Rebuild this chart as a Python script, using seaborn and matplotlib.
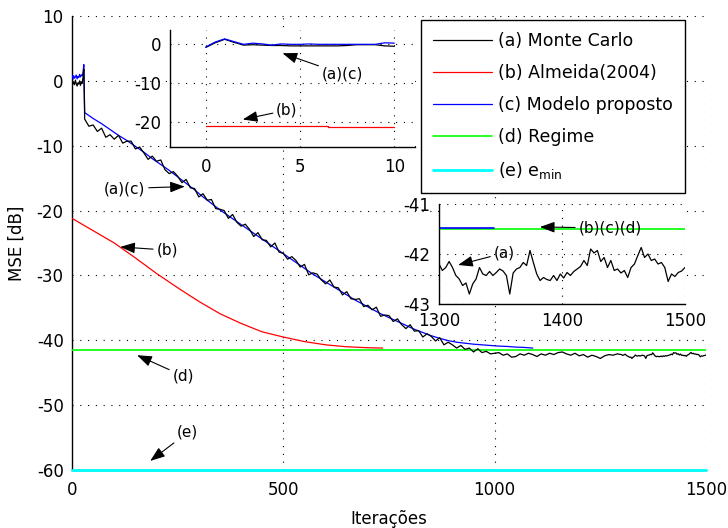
import numpy as np
import matplotlib
matplotlib.use("Agg")
import matplotlib.pyplot as plt
import seaborn as sns

# ---------------- data ----------------
# (a) Monte Carlo, main plot
mc_early = [0.3, -0.5, -0.2, -0.6, 0.1, -0.4, -0.8, -0.3, -0.5, 0.0, -0.7, -0.2, -0.4, 0.5, 1.8]   # iter 0..28 step 2
mc_mid = [-5.9, -7.0, -6.8, -7.8, -7.3, -8.7, -8.3, -9.0, -8.4, -9.6, -9.3, -9.3, -10.5, -10.2,
          -11.1, -12.1, -11.6, -12.4, -12.2, -13.7, -14.3, -14.0, -14.7, -15.7, -15.2, -16.5,
          -16.6, -17.9, -17.4, -18.4, -18.3, -19.7, -19.8, -20.0, -21.2, -20.6, -21.8, -22.4,
          -22.1, -22.9, -24.0, -23.4, -24.5, -24.6, -25.6, -25.0, -26.4, -26.6, -27.5, -27.1,
          -27.7, -28.7, -28.3, -29.9, -29.6, -29.8, -30.7, -31.3, -30.7, -31.8, -31.9, -33.0,
          -32.5, -33.6, -33.7, -33.6, -34.8, -34.6, -35.3, -34.9, -36.3, -36.1, -36.2, -37.1,
          -36.7, -37.6, -38.2, -37.6, -38.6, -38.5, -39.5, -39.0, -39.4, -40.1, -39.6, -40.7,
          -40.3, -40.7, -41.2, -40.8, -41.4, -41.2, -41.8, -41.3, -41.9, -41.7, -42.1,
          -42.0, -41.9, -42.3, -42.1, -42.6, -42.5, -42.1, -42.3, -42.0, -42.2, -42.5, -42.1,
          -42.3, -42.0, -42.2, -41.9, -41.8, -42.1, -42.3, -42.0, -42.4, -42.2, -42.6, -42.3,
          -42.5, -42.8, -42.4, -42.2, -42.3, -42.1]                                          # iter 30..1290 step 10
mc_tail = [-42.20, -42.33, -42.27, -42.15, -42.27, -42.43, -42.50, -42.63, -42.58, -42.80, -42.60,
           -42.50, -42.27, -42.40, -42.43, -42.35, -42.43, -42.37, -42.30, -42.34, -42.43, -42.80,
           -42.38, -42.30, -42.27, -42.17, -42.23, -41.93, -42.17, -42.40, -42.53, -42.47, -42.51,
           -42.53, -42.43, -42.53, -42.40, -42.48, -42.37, -42.43, -42.35, -42.30, -42.25, -42.13,
           -42.23, -41.90, -41.98, -41.93, -42.15, -42.07, -42.27, -42.13, -42.33, -42.30, -42.38,
           -42.33, -42.47, -42.27, -42.20, -42.03, -41.87, -42.07, -42.00, -42.13, -42.10, -42.20,
           -42.17, -42.27, -42.55, -42.40, -42.45, -42.37, -42.34, -42.27]                   # iter 1300..1500

# (b) Almeida(2004)
alm_iter = [0, 50, 100, 150, 200, 250, 300, 350, 400, 450, 500, 550, 600, 650, 700, 735]
alm_val = [-21.2, -23.1, -25.0, -27.3, -29.7, -31.9, -34.0, -35.9, -37.4, -38.7, -39.5, -40.2,
           -40.7, -41.0, -41.15, -41.2]

# (c) Modelo proposto
mod_early = [1.0, 0.2, 0.8, 0.4, 0.6, 0.9, 0.3, 0.7, 0.5, 1.0, 0.6, 0.9, 0.8, 1.3, 2.5]   # iter 0..28 step 2
mod_mid = [-4.9, -5.8, -6.6, -7.5, -8.4, -9.2, -10.1, -11.0, -12.0, -12.9, -13.8, -14.8, -15.8,
           -16.8, -17.9, -18.9, -19.9, -20.8, -21.7, -22.6, -23.5, -24.4, -25.3, -26.2, -27.1,
           -28.0, -28.9, -29.8, -30.6, -31.4, -32.2, -33.0, -33.8, -34.5, -35.2, -35.9, -36.5,
           -37.1, -37.7, -38.3, -38.8, -39.3, -39.7, -40.05, -40.3, -40.45, -40.6, -40.7, -40.8,
           -40.9, -40.95, -41.05, -41.1, -41.2]                                                # iter 30..1090 step 20

# (d) Regime and (e) e_min
regime_val = -41.5
emin_val = -60.0

# inset 1 (iterations 0..10)
in1_iter = [0, 0.5, 1, 1.5, 2, 2.5, 3, 3.5, 4, 4.5, 5, 5.5, 6, 6.5, 7, 7.5, 8, 8.5, 9, 9.5, 10]
in1_mod = [-0.7, 0.6, 1.4, 0.7, 0.0, 0.3, 0.1, -0.2, 0.1, 0.0, 0.0, 0.1, 0.0, 0.0, 0.0, 0.0, 0.0,
           0.0, 0.0, 0.4, 0.3]
in1_mc = [-0.8, 0.4, 1.3, 0.5, -0.2, -0.1, -0.2, -0.3, -0.3, -0.4, -0.4, -0.4, -0.4, -0.4, -0.4,
          -0.3, -0.1, -0.1, -0.1, -0.4, -0.5]
in1_alm_iter = [0, 6.5, 10]
in1_alm = [-21.1, -21.4, -21.4]

# inset 2 (iterations 1300..1500)
in2_mod_iter = [1300, 1345]
in2_mod = [-41.48, -41.48]

legend_labels = ["(a) Monte Carlo", "(b) Almeida(2004)", "(c) Modelo proposto", "(d) Regime",
                 "(e) $\\mathregular{e_{min}}$"]
main_xticks = [0, 500, 1000, 1500]
main_yticks = [-60, -50, -40, -30, -20, -10, 0, 10]

# ---------------- style ----------------
sns.set_style("white")
plt.rcParams["font.family"] = ["DejaVu Sans"]
plt.rcParams["axes.unicode_minus"] = False
plt.rcParams["lines.scale_dashes"] = True
plt.rcParams["text.color"] = "black"
plt.rcParams["axes.labelcolor"] = "black"
plt.rcParams["xtick.color"] = "black"
plt.rcParams["ytick.color"] = "black"

BLACK, RED, BLUE, GREEN, CYAN = "#000000", "#ff0000", "#0000ff", "#00ff00", "#00ffff"
LW = 0.9
GRID = dict(color="black", linestyle=(0, (1, 6)), linewidth=0.8)

fig = plt.figure(figsize=(7.28, 5.28), dpi=100)
ax = fig.add_axes([72 / 728, 1 - 470 / 528, 634 / 728, 454 / 528])

mc_x = np.concatenate([2 * np.arange(len(mc_early)), 30 + 10 * np.arange(len(mc_mid)),
                       np.linspace(1300, 1500, len(mc_tail))])
mc_y = np.concatenate([mc_early, mc_mid, mc_tail])
mod_x = np.concatenate([2 * np.arange(len(mod_early)), 30 + 20 * np.arange(len(mod_mid))])
mod_y = np.concatenate([mod_early, mod_mid])


def style_axes(a, xlim, ylim, xticks, yticks):
    a.set_xlim(*xlim)
    a.set_ylim(*ylim)
    a.set_xticks(xticks)
    a.set_yticks(yticks)
    a.set_xticklabels([str(t) for t in xticks])
    a.set_yticklabels([str(t) for t in yticks])
    a.grid(True, **GRID)
    a.set_axisbelow(True)
    for s in ["top", "right"]:
        a.spines[s].set_visible(False)
    for s in ["left", "bottom"]:
        a.spines[s].set_color("black")
        a.spines[s].set_linewidth(1.0)
    a.tick_params(direction="in", length=5, width=0.8, labelsize=12, colors="black", pad=6)
    a.tick_params(axis="x", pad=8)
    a.set_facecolor("white")


sns.lineplot(x=mc_x, y=mc_y, ax=ax, color=BLACK, lw=LW, estimator=None, sort=False, zorder=4)
sns.lineplot(x=alm_iter, y=alm_val, ax=ax, color=RED, lw=LW, estimator=None, zorder=3)
sns.lineplot(x=mod_x, y=mod_y, ax=ax, color=BLUE, lw=LW, estimator=None, sort=False, zorder=3)
sns.lineplot(x=[0, 1500], y=[regime_val, regime_val], ax=ax, color=GREEN, lw=1.2, estimator=None, zorder=3)
sns.lineplot(x=[0, 1500], y=[emin_val, emin_val], ax=ax, color=CYAN, lw=2.0, estimator=None, zorder=3,
             clip_on=False)

style_axes(ax, (0, 1500), (-60, 10), main_xticks, main_yticks)
ax.set_xlabel("Iterações", fontsize=12, labelpad=8, color="black")
ax.set_ylabel("MSE [dB]", fontsize=12, labelpad=8, color="black")

handles = ax.get_lines()[:5]
leg = ax.legend(handles, legend_labels, loc="upper right", bbox_to_anchor=(685 / 728, 1 - 20 / 528),
                bbox_transform=fig.transFigure, borderaxespad=0, fontsize=12.5, frameon=True,
                fancybox=False, framealpha=1, edgecolor="black", handlelength=3.4,
                handletextpad=0.35, labelspacing=0.8, borderpad=0.7, labelcolor="black")
leg.get_frame().set_linewidth(1.0)
leg.set_zorder(10)

ARROW = dict(arrowstyle="-|>,head_length=0.6,head_width=0.22", color="black", lw=0.8,
             mutation_scale=15, shrinkA=0, shrinkB=0)
ax.annotate("(a)(c)", xy=(267, -16.3), xytext=(125, -16.6), fontsize=11, ha="center", va="center",
            arrowprops=ARROW, zorder=6)
ax.annotate("(b)", xy=(114, -25.6), xytext=(225, -26.1), fontsize=11, ha="center", va="center",
            arrowprops=ARROW, zorder=6)
ax.annotate("(d)", xy=(154, -42.3), xytext=(263, -45.5), fontsize=11, ha="center", va="center",
            arrowprops=ARROW, zorder=6)
ax.annotate("(e)", xy=(185, -58.6), xytext=(274, -54.2), fontsize=11, ha="center", va="center",
            arrowprops=ARROW, zorder=6)

# ---- inset 1 ----
ax1 = fig.add_axes([170 / 728, 1 - 147 / 528, 245 / 728, 117 / 528])
sns.lineplot(x=in1_alm_iter, y=in1_alm, ax=ax1, color=RED, lw=LW, estimator=None, drawstyle="steps-post")
sns.lineplot(x=in1_iter, y=in1_mc, ax=ax1, color=BLACK, lw=LW, estimator=None)
sns.lineplot(x=in1_iter, y=in1_mod, ax=ax1, color=BLUE, lw=LW, estimator=None)
style_axes(ax1, (-1.9, 11.1), (-26.5, 3.7), [0, 5, 10], [-20, -10, 0])
ax1.set_xlabel("")
ax1.set_ylabel("")
ax1.annotate("(a)(c)", xy=(4.07, -2.3), xytext=(7.25, -7.7), fontsize=11, ha="center", va="center",
             arrowprops=ARROW)
ax1.annotate("(b)", xy=(1.96, -19.4), xytext=(4.3, -17.0), fontsize=11, ha="center", va="center",
             arrowprops=ARROW)

# ---- inset 2 ----
ax2 = fig.add_axes([439 / 728, 1 - 304 / 528, 246 / 728, 100 / 528])
in2_x = np.linspace(1300, 1500, len(mc_tail))
sns.lineplot(x=in2_x, y=mc_tail, ax=ax2, color=BLACK, lw=LW, estimator=None)
sns.lineplot(x=[1300, 1500], y=[regime_val, regime_val], ax=ax2, color=GREEN, lw=1.2, estimator=None)
sns.lineplot(x=in2_mod_iter, y=in2_mod, ax=ax2, color=BLUE, lw=1.2, estimator=None)
style_axes(ax2, (1300, 1500), (-43, -41), [1300, 1400, 1500], [-43, -42, -41])
ax2.tick_params(axis="x", pad=6)
ax2.set_xlabel("")
ax2.set_ylabel("")
ax2.annotate("(b)(c)(d)", xy=(1382, -41.46), xytext=(1439, -41.48), fontsize=11, ha="center",
             va="center", arrowprops=ARROW)
ax2.annotate("(a)", xy=(1315.5, -42.22), xytext=(1353, -41.98), fontsize=11, ha="center",
             va="center", arrowprops=ARROW)

fig.savefig("out.png", dpi=100)
